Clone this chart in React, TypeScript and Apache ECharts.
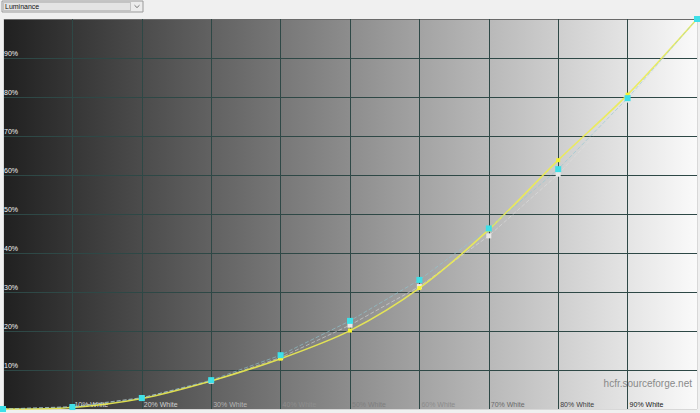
import { FC, useEffect, useRef } from "react";
import * as echarts from "echarts";

// 刺激等级（% White）
const levels = [0, 10, 20, 30, 40, 50, 60, 70, 80, 90, 100];
// 黄色曲线（实测亮度 %）
const yellowY = [0, 0.4, 2.7, 7.2, 12.9, 20.1, 31.0, 46.0, 63.8, 80.6, 100];
// 青色方块
const cyanY = [0, 0.5, 2.8, 7.4, 13.8, 22.6, 33.1, 46.3, 61.5, 79.7, 100];
// 白色方块（参考）
const whiteY = [0, 0.6, 2.9, 7.1, 13.2, 21.5, 31.4, 44.4, 60.2, 79.2, 100];
// x 轴标签颜色（10% ~ 90%）
const xLabelColors = ["#d8d8d8", "#d0d0d0", "#b4b4b4", "#8e8e8e", "#7e7e7e", "#8c8c8c", "#6a6a6a", "#404040", "#202020"];

const toPairs = (ys: number[]) => levels.map((x, i) => [x, ys[i]]);

const App: FC = () => {
    const chartRef = useRef<HTMLDivElement>(null);

    useEffect(() => {
        if (!chartRef.current) return;
        const chart = echarts.init(chartRef.current, undefined, { renderer: "svg" });
        const font = "Liberation Sans, Arial, sans-serif";

        const option = {
            animation: false,
            backgroundColor: "#f0f0f0",
            grid: {
                left: 3,
                right: 3,
                top: 19,
                bottom: 4,
                show: true,
                borderWidth: 0,
                backgroundColor: {
                    type: "linear",
                    x: 0, y: 0, x2: 1, y2: 0,
                    colorStops: [
                        { offset: 0, color: "#202020" },
                        { offset: 0.5, color: "#8d8d8d" },
                        { offset: 1, color: "#fafafa" }
                    ]
                }
            },
            xAxis: {
                type: "value",
                min: 0,
                max: 100,
                interval: 10,
                axisLine: { show: false },
                axisTick: { show: false },
                splitLine: {
                    show: true,
                    lineStyle: {
                        width: 1,
                        color: ["#d8d8d8", "#2e4846", "#2e4846", "#2e4846", "#2e4846", "#2e4846",
                            "#2e4846", "#2e4846", "#2e4846", "#2e4846", "#d8d8d8"]
                    }
                },
                axisLabel: {
                    inside: true,
                    margin: 1,
                    align: "left",
                    verticalAlign: "bottom",
                    fontSize: 7,
                    fontFamily: font,
                    padding: [0, 0, 0, 2],
                    formatter: (v: number) => (v === 0 || v === 100 ? "" : `${v}% White`),
                    color: (v: number) => xLabelColors[Math.round(v / 10) - 1] || "#888"
                }
            },
            yAxis: {
                type: "value",
                min: 0,
                max: 100,
                interval: 10,
                axisLine: { show: false },
                axisTick: { show: false },
                splitLine: {
                    show: true,
                    lineStyle: {
                        width: 1,
                        color: ["#d8d8d8", "#2e4846", "#2e4846", "#2e4846", "#2e4846", "#2e4846",
                            "#2e4846", "#2e4846", "#2e4846", "#2e4846", "#6a6a6a"]
                    }
                },
                axisLabel: {
                    inside: true,
                    margin: 1,
                    align: "left",
                    verticalAlign: "bottom",
                    fontSize: 7,
                    fontFamily: font,
                    color: "#f2f2f2",
                    padding: [0, 0, 1, 0],
                    formatter: (v: number) => (v === 0 || v === 100 ? "" : `${v}%`)
                }
            },
            series: [
                {
                    name: "white",
                    type: "line",
                    data: toPairs(whiteY),
                    clip: false,
                    symbol: "rect",
                    symbolSize: 5,
                    itemStyle: { color: "#e8e8e8" },
                    lineStyle: { color: "#e0e0e0", width: 1, type: "dashed", opacity: 0.55 },
                    z: 2
                },
                {
                    name: "yellow",
                    type: "line",
                    data: toPairs(yellowY),
                    clip: false,
                    smooth: 0.3,
                    symbol: "rect",
                    symbolSize: 4,
                    itemStyle: { color: "#f4f430" },
                    lineStyle: { color: "#ecec50", width: 1.6, opacity: 0.9 },
                    z: 3
                },
                {
                    name: "cyan",
                    type: "line",
                    data: toPairs(cyanY),
                    clip: false,
                    symbol: "rect",
                    symbolSize: 6,
                    itemStyle: { color: "#3ee0e8" },
                    lineStyle: { color: "#90c8d4", width: 1, type: "dashed", opacity: 0.6 },
                    z: 4
                }
            ],
            graphic: [
                {
                    type: "rect",
                    shape: { x: 2, y: 1, width: 141, height: 11 },
                    style: { fill: "#ececec", stroke: "#9a9a9a", lineWidth: 1 }
                },
                {
                    type: "rect",
                    shape: { x: 3.5, y: 2.5, width: 127, height: 8 },
                    style: { fill: "#e4e4e4", stroke: "#707070", lineWidth: 0.6, lineDash: [1, 1] }
                },
                {
                    type: "text",
                    x: 5,
                    y: 6.8,
                    style: { text: "Luminance", fontSize: 7, fontFamily: font, fill: "#111", verticalAlign: "middle" }
                },
                {
                    type: "polyline",
                    shape: { points: [[134.5, 5.2], [137, 7.6], [139.5, 5.2]] },
                    style: { stroke: "#777", lineWidth: 1, fill: null }
                },
                {
                    type: "text",
                    right: 8,
                    top: 378,
                    style: { text: "hcfr.sourceforge.net", fontSize: 10, fontFamily: font, fill: "#8a8a8a" }
                }
            ]
        };

        chart.setOption(option as any);
        return () => {
            chart.dispose();
        };
    }, []);

    return (
        <div
            ref={chartRef}
            style={{ position: "fixed", left: 0, top: 0, width: 700, height: 413 }}
        />
    );
};

export default App;
